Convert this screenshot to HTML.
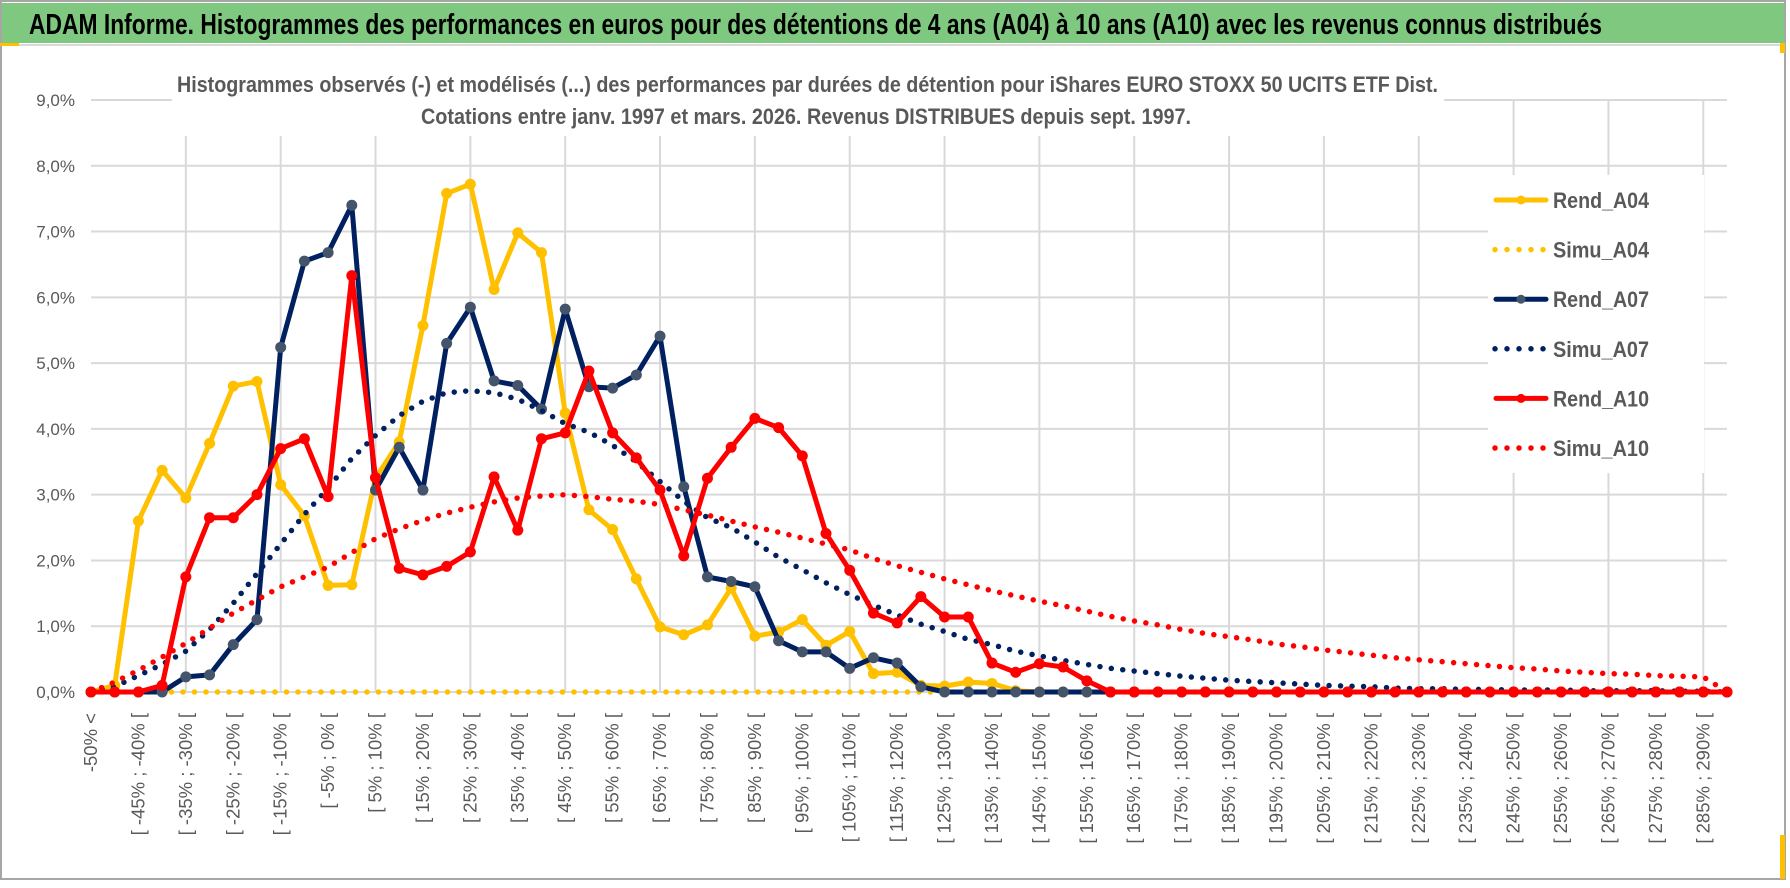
<!DOCTYPE html>
<html><head><meta charset="utf-8"><style>
html,body{margin:0;padding:0;background:#fff;}
svg{display:block;}
text{font-family:"Liberation Sans","DejaVu Sans",sans-serif;}
</style></head><body>
<svg id="chart" width="1790" height="888" viewBox="0 0 1790 888" xmlns="http://www.w3.org/2000/svg">
<rect x="0" y="0" width="1790" height="888" fill="#fff"/>
<rect x="1" y="1" width="1784" height="878" fill="none" stroke="#a6a6a6" stroke-width="2"/>
<rect x="2" y="3" width="1782" height="40" fill="#7ec87f"/>
<rect x="2" y="44" width="1782" height="2" fill="#d9d9d9"/>
<rect x="0" y="43" width="19" height="3" fill="#ffc000"/>
<rect x="1780" y="43" width="5" height="10" fill="#ffc000"/>
<rect x="1780" y="835" width="5" height="44" fill="#ffc000"/>
<text x="29" y="34" font-size="29" font-weight="bold" fill="#000" textLength="1573" lengthAdjust="spacingAndGlyphs">ADAM Informe. Histogrammes des performances en euros pour des détentions de 4 ans (A04) à 10 ans (A10) avec les revenus connus distribués</text>
<g id="grid"></g>
<rect x="172" y="56" width="1272" height="80" fill="#fff"/>
<text x="177" y="92" font-size="22" font-weight="bold" fill="#595959" textLength="1261" lengthAdjust="spacingAndGlyphs">Histogrammes observés (-) et modélisés (...) des performances par durées de détention pour iShares EURO STOXX 50 UCITS ETF Dist.</text>
<text x="421" y="124" font-size="22" font-weight="bold" fill="#595959" textLength="770" lengthAdjust="spacingAndGlyphs">Cotations entre janv. 1997 et mars. 2026. Revenus DISTRIBUES depuis sept. 1997.</text>
<g id="yaxis"></g>
<g id="xaxis"></g>
<g id="series"></g>
<g id="legend"></g>
</svg>
<script>
const yTicks = [0,1,2,3,4,5,6,7,8,9];
const yTickLabels = ["0,0%","1,0%","2,0%","3,0%","4,0%","5,0%","6,0%","7,0%","8,0%","9,0%"];
const categories = ["-50% <"];
for (let a = -50; a < 295; a += 5) categories.push("[ " + a + "% ; " + (a + 5) + "% [");
const rendA04 = [0,0.1,2.6,3.37,2.95,3.78,4.65,4.72,3.15,2.68,1.62,1.63,3.25,3.8,5.57,7.58,7.72,6.12,6.98,6.68,4.24,2.77,2.47,1.72,0.99,0.87,1.02,1.58,0.85,0.91,1.1,0.71,0.92,0.28,0.3,0.1,0.09,0.15,0.13,0.02,0,0,0,0,0,0,0,0,0,0,0,0,0,0,0,0,0,0,0,0,0,0,0,0,0,0,0,0,0,0];
const simuA04 = [0,0,0,0,0,0,0,0,0,0,0,0,0,0,0,0,0,0,0,0,0,0,0,0,0,0,0,0,0,0,0,0,0,0,0,0,0,0,0,0,0,0,0,0,0,0,0,0,0,0,0,0,0,0,0,0,0,0,0,0,0,0,0,0,0,0,0,0,0,0];
const rendA07 = [0,0,0,0,0.23,0.26,0.72,1.1,5.24,6.55,6.68,7.4,3.07,3.72,3.07,5.3,5.85,4.73,4.66,4.3,5.82,4.64,4.62,4.82,5.41,3.12,1.75,1.68,1.6,0.78,0.61,0.61,0.36,0.52,0.44,0.08,0,0,0,0,0,0,0,0,0,0,0,0,0,0,0,0,0,0,0,0,0,0,0,0,0,0,0,0,0,0,0,0,0,0];
const simuA07 = [0,0.08,0.25,0.42,0.62,0.95,1.35,1.8,2.25,2.7,3.1,3.55,3.9,4.2,4.42,4.55,4.58,4.55,4.45,4.28,4.08,3.95,3.75,3.5,3.2,2.9,2.65,2.5,2.28,2.05,1.86,1.66,1.48,1.32,1.17,1.03,0.92,0.8,0.72,0.62,0.55,0.48,0.42,0.36,0.32,0.28,0.24,0.21,0.18,0.16,0.14,0.12,0.1,0.09,0.08,0.06,0.05,0.05,0.04,0.04,0.03,0.03,0.03,0.02,0.02,0.02,0.02,0.01,0.01,0];
const rendA10 = [0,0,0,0.1,1.75,2.65,2.65,3.0,3.7,3.85,2.97,6.33,3.26,1.88,1.78,1.91,2.13,3.27,2.46,3.85,3.94,4.88,3.94,3.56,3.07,2.07,3.25,3.72,4.16,4.02,3.59,2.41,1.85,1.2,1.05,1.45,1.14,1.14,0.44,0.3,0.43,0.38,0.17,0,0,0,0,0,0,0,0,0,0,0,0,0,0,0,0,0,0,0,0,0,0,0,0,0,0,0];
const simuA10 = [0,0.15,0.33,0.53,0.74,0.97,1.2,1.4,1.6,1.75,1.9,2.12,2.33,2.48,2.61,2.72,2.81,2.89,2.95,2.98,3.0,2.97,2.93,2.9,2.85,2.77,2.69,2.6,2.51,2.43,2.34,2.25,2.16,2.03,1.92,1.82,1.72,1.63,1.54,1.46,1.38,1.31,1.23,1.15,1.08,1.02,0.95,0.89,0.84,0.79,0.73,0.69,0.64,0.6,0.56,0.52,0.49,0.46,0.43,0.4,0.37,0.35,0.32,0.3,0.28,0.27,0.25,0.24,0.23,0];

const NS = "http://www.w3.org/2000/svg";
const X0 = 91, X1 = 1727, Y0 = 692, YTOP = 100;
const n = categories.length;
function xPos(i){ return X0 + (X1 - X0) * i / (n - 1); }
function yPos(v){ return Y0 - (Y0 - YTOP) * v / 9; }
function mk(tag, attrs, parent){ const e = document.createElementNS(NS, tag); for (const k in attrs) e.setAttribute(k, attrs[k]); parent.appendChild(e); return e; }

const grid = document.getElementById("grid");
yTicks.forEach((t, k) => {
  const l = mk("line", {x1: X0, x2: X1, y1: yPos(t), y2: yPos(t), stroke: "#d9d9d9", "stroke-width": 2}, grid);
  
  
});
for (let i = 4; i < n; i += 4) {
  const l = mk("line", {x1: xPos(i), x2: xPos(i), y1: YTOP, y2: Y0, stroke: "#d9d9d9", "stroke-width": 2}, grid);
  
  
}

const yaxis = document.getElementById("yaxis");
yTicks.forEach((t, k) => {
  const tx = mk("text", {x: 75, y: yPos(t) + 6, "text-anchor": "end", "font-size": 17, fill: "#595959"}, yaxis);
  tx.textContent = yTickLabels[k];
  
  
});

const xaxis = document.getElementById("xaxis");
categories.forEach((c, i) => {
  if (i % 2 !== 0) return;
  const x = xPos(i) + 6, y = 713;
  const tx = mk("text", {x: x, y: y, "text-anchor": "end", "font-size": 18.5, fill: "#595959", transform: "rotate(-90 " + x + " " + y + ")"}, xaxis);
  tx.textContent = c;
  
  
});

const series = document.getElementById("series");
function drawSolid(vals, color, markerFill, name){
  const g = mk("g", {}, series);
  
  
  const pts = vals.map((v, i) => xPos(i).toFixed(1) + "," + yPos(v).toFixed(1)).join(" ");
  mk("polyline", {points: pts, fill: "none", stroke: color, "stroke-width": 5, "stroke-linejoin": "round", "stroke-linecap": "round"}, g);
  vals.forEach((v, i) => {
    const c = mk("circle", {cx: xPos(i), cy: yPos(v), r: 5, fill: markerFill, stroke: markerFill, "stroke-width": 1}, g);
    
    
  });
}
function drawDotted(vals, color, name){
  const pts = vals.map((v, i) => xPos(i).toFixed(1) + "," + yPos(v).toFixed(1)).join(" ");
  const p = mk("polyline", {points: pts, fill: "none", stroke: color, "stroke-width": 5.5, "stroke-dasharray": "0 11.5", "stroke-linecap": "round", "stroke-linejoin": "round"}, series);
  
  
}
drawSolid(rendA04, "#ffc000", "#ffc000", "rend-a04-line");
drawDotted(simuA04, "#ffc000", "simu-a04-line");
drawSolid(rendA07, "#002060", "#44546a", "rend-a07-line");
drawDotted(simuA07, "#002060", "simu-a07-line");
drawSolid(rendA10, "#ff0000", "#ff0000", "rend-a10-line");
drawDotted(simuA10, "#ff0000", "simu-a10-line");

const legend = document.getElementById("legend");
mk("rect", {x: 1488, y: 175, width: 216, height: 298, fill: "#fff"}, legend);
const legItems = [
  ["Rend_A04", "#ffc000", "#ffc000", true],
  ["Simu_A04", "#ffc000", "#ffc000", false],
  ["Rend_A07", "#002060", "#44546a", true],
  ["Simu_A07", "#002060", "#002060", false],
  ["Rend_A10", "#ff0000", "#ff0000", true],
  ["Simu_A10", "#ff0000", "#ff0000", false]
];
legItems.forEach((it, k) => {
  const y = 200 + k * 49.6;
  const g = mk("g", {}, legend);
  
  
  if (it[3]) {
    mk("line", {x1: 1496, x2: 1546, y1: y, y2: y, stroke: it[1], "stroke-width": 5, "stroke-linecap": "round"}, g);
    mk("circle", {cx: 1521, cy: y, r: 4.5, fill: it[2]}, g);
  } else {
    mk("line", {x1: 1495, x2: 1545, y1: y, y2: y, stroke: it[1], "stroke-width": 5.5, "stroke-dasharray": "0 12", "stroke-linecap": "round"}, g);
  }
  const t = mk("text", {x: 1553, y: y + 8, "font-size": 22, "font-weight": "bold", fill: "#595959", textLength: 96, lengthAdjust: "spacingAndGlyphs"}, g);
  t.textContent = it[0];
});
</script>
</body></html>
